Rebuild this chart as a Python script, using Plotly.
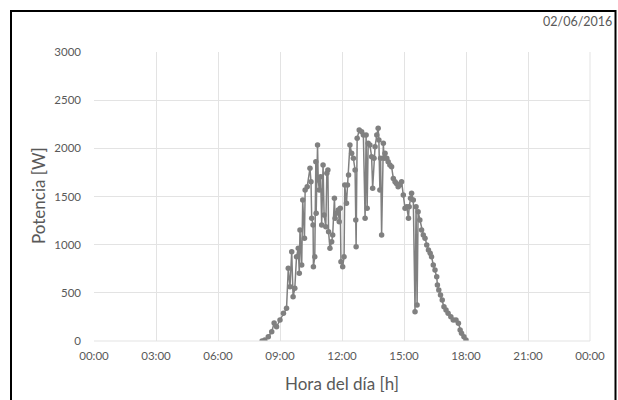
import pandas as pd
import plotly.graph_objects as go

DATE = "2016-06-02"

times = [
    "08:08", "08:16", "08:26", "08:36", "08:43", "08:50", "09:00", "09:10", "09:19", "09:24",
    "09:29", "09:34", "09:38", "09:43", "09:48", "09:53", "09:56", "09:58", "10:03", "10:06",
    "10:11", "10:13", "10:19", "10:27", "10:30", "10:32", "10:36", "10:37", "10:41", "10:44",
    "10:45", "10:49", "10:51", "10:54", "10:58", "11:01", "11:05", "11:08", "11:13", "11:16",
    "11:19", "11:21", "11:25", "11:30", "11:33", "11:38", "11:40", "11:44", "11:49", "11:52",
    "11:55", "11:57", "12:02", "12:06", "12:08", "12:13", "12:16", "12:19", "12:23", "12:28",
    "12:33", "12:38", "12:40", "12:41", "12:44", "12:50", "12:57", "13:02", "13:07", "13:10",
    "13:13", "13:16", "13:21", "13:26", "13:29", "13:33", "13:36", "13:41", "13:45", "13:47",
    "13:50", "13:52", "13:55", "14:00", "14:02", "14:05", "14:10", "14:14", "14:19", "14:24",
    "14:29", "14:34", "14:38", "14:43", "14:48", "14:53", "14:58", "15:03", "15:08", "15:13",
    "15:15", "15:19", "15:22", "15:27", "15:32", "15:35", "15:38", "15:41", "15:46", "15:51",
    "15:56", "16:01", "16:06", "16:11", "16:16", "16:20", "16:25", "16:30", "16:35", "16:37",
    "16:41", "16:46", "16:51", "16:56", "17:02", "17:08", "17:16", "17:23", "17:31", "17:38",
    "17:43", "17:47", "17:54", "18:00",
]

potencia = [
    0, 10, 45, 97, 187, 148, 218, 287, 339, 755,
    564, 927, 460, 547, 875, 962, 703, 1152, 789, 1464,
    1066, 1567, 1602, 1793, 1654, 1274, 1204, 771, 875, 1861,
    1325, 2035, 1671, 1567, 1706, 1204, 1827, 1308, 1187, 1741,
    1775, 1135, 962, 1031, 1100, 1481, 1274, 1325, 1360, 1239,
    1377, 823, 771, 875, 1619, 1429, 1619, 1723, 2035, 1948,
    1896, 1775, 1256, 979, 2104, 2190, 2173, 2138, 1274, 2138,
    1377, 2052, 2035, 1913, 1585, 1896, 2017, 2138, 2208, 2087,
    1567, 1896, 1100, 2052, 1896, 1948, 1896, 1861, 1827, 1809,
    1688, 1654, 1636, 1602, 1619, 1654, 1515, 1377, 1394, 1274,
    1394, 1481, 1533, 1464, 304, 1394, 374, 1342, 1256, 1152,
    1100, 1066, 997, 945, 910, 875, 789, 737, 668, 581,
    529, 477, 426, 356, 322, 287, 252, 218, 218, 183,
    114, 80, 45, 10,
]

y_ticks = [0, 500, 1000, 1500, 2000, 2500, 3000]
x_start = DATE + " 00:00"
x_end = "2016-06-03 00:00"
date_label = "02/06/2016"
x_title = "Hora del día [h]"
y_title = "Potencia [W]"

x = pd.to_datetime([DATE + " " + t for t in times])

GRAY_TXT = "#595959"
GRID = "#e3e3e3"
FONT = "Lato"

fig = go.Figure()
fig.add_trace(go.Scatter(
    x=x, y=potencia, mode="lines+markers",
    line=dict(color="#808080", width=1.5),
    marker=dict(color="#808080", size=5.5),
    showlegend=False,
))

L, R, T, B = 94, 28, 52, 59
W, H = 618, 400
pw, ph = W - L - R, H - T - B

def px_x(px):
    return (px - L) / pw

def px_y(py):
    return (H - B - py) / ph

fig.update_layout(
    width=W, height=H,
    margin=dict(l=L, r=R, t=T, b=B),
    paper_bgcolor="white", plot_bgcolor="white",
    font=dict(family=FONT, color=GRAY_TXT, size=11.5),
    xaxis=dict(
        type="date", range=[x_start, x_end], dtick=3 * 3600 * 1000,
        tick0=x_start, tickformat="%H:%M",
        showgrid=True, gridcolor=GRID, gridwidth=1,
        showline=False, zeroline=False,
        tickfont=dict(size=11.5, color=GRAY_TXT), ticklabelstandoff=6,
    ),
    yaxis=dict(
        range=[0, 3000], tickvals=y_ticks,
        showgrid=True, gridcolor=GRID, gridwidth=1,
        showline=False, zeroline=False,
        tickfont=dict(size=11.5, color=GRAY_TXT), ticklabelstandoff=12,
    ),
    shapes=[
        dict(type="rect", xref="paper", yref="paper",
             x0=px_x(11), x1=px_x(615.5), y0=px_y(401), y1=px_y(11),
             line=dict(color="black", width=2), layer="above"),
        dict(type="line", xref="paper", yref="paper",
             x0=0, x1=1, y0=0, y1=0, line=dict(color=GRID, width=1)),
        dict(type="line", xref="paper", yref="paper",
             x0=1, x1=1, y0=0, y1=1, line=dict(color=GRID, width=1)),
    ],
    annotations=[
        dict(text=date_label, xref="paper", yref="paper",
             x=px_x(614), y=px_y(22), xanchor="right", yanchor="middle",
             showarrow=False, font=dict(size=12.5, color=GRAY_TXT, family=FONT)),
        dict(text=x_title, xref="paper", yref="paper",
             x=px_x(342), y=px_y(383), xanchor="center", yanchor="middle",
             showarrow=False, font=dict(size=17, color=GRAY_TXT, family=FONT)),
        dict(text=y_title, xref="paper", yref="paper",
             x=px_x(38), y=px_y(196), xanchor="center", yanchor="middle",
             textangle=-90, showarrow=False,
             font=dict(size=17, color=GRAY_TXT, family=FONT)),
    ],
)

fig.write_html("out.html")
